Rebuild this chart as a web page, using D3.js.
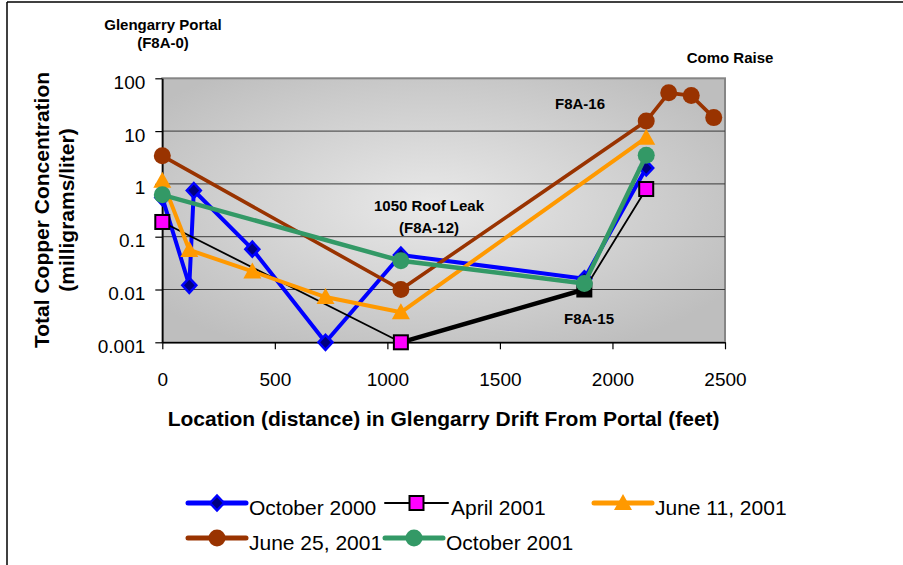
<!DOCTYPE html>
<html>
<head>
<meta charset="utf-8">
<script src="https://cdn.jsdelivr.net/npm/d3@7"></script>
<style>
  body { margin: 0; background: #fff; }
  svg { font-family: "Liberation Sans", Arial, sans-serif; display: block; }
</style>
</head>
<body>
<div class="container"></div>
<script>
// data (feet from portal, mg/l)
const seriesNames = ["October 2000", "April 2001", "June 11, 2001", "June 25, 2001", "October 2001"]

const oct2000X = [0, 120, 140, 400, 725, 1060, 1875, 2150]
const oct2000Y = [0.55, 0.012, 0.75, 0.058, 0.001, 0.045, 0.016, 2.0]

const apr2001X = [0, 1060, 1875, 2150]
const apr2001Y = [0.19, 0.001, 0.01, 0.8]

const jun11X = [0, 120, 400, 725, 1060, 2150]
const jun11Y = [1.15, 0.056, 0.022, 0.0072, 0.0037, 7.5]

const jun25X = [0, 1060, 2150, 2250, 2350, 2450]
const jun25Y = [3.4, 0.01, 15.5, 53, 47, 18]

const oct2001X = [0, 1060, 1875, 2150]
const oct2001Y = [0.62, 0.035, 0.013, 3.5]

const xTicks = [0, 500, 1000, 1500, 2000, 2500]
const yTicks = [100, 10, 1, 0.1, 0.01, 0.001]

const w = 903
const h = 565
const padL = 162.3, padR = 725, padT = 78.3, padB = 342.3

const svg = d3.select(".container").append("svg")
    .attr("width", w)
    .attr("height", h)

const xScale = d3.scaleLinear().domain([0, 2500]).range([padL, padR])
const yScale = d3.scaleLog().domain([0.001, 100]).range([padB, padT])

// outer frame (only top and left visible in the source)
svg.append("line").attr("x1", 7).attr("x2", w).attr("y1", 2).attr("y2", 2)
    .attr("stroke", "#000").attr("stroke-width", 1.5)
svg.append("line").attr("x1", 7).attr("x2", 7).attr("y1", 2).attr("y2", h)
    .attr("stroke", "#000").attr("stroke-width", 1.5)

// plot background
const defs = svg.append("defs")
const grad = defs.append("radialGradient").attr("id", "bg")
    .attr("cx", "48%").attr("cy", "48%").attr("r", "62%")
grad.append("stop").attr("offset", "0%").attr("stop-color", "#e9e9e9")
grad.append("stop").attr("offset", "100%").attr("stop-color", "#bebebe")

svg.append("rect")
    .attr("x", padL).attr("y", padT)
    .attr("width", padR - padL).attr("height", padB - padT)
    .attr("fill", "url(#bg)")
    .attr("stroke", "#868686").attr("stroke-width", 2)

// gridlines
svg.append("g").selectAll("line")
    .data(yTicks.slice(1, 5))
    .enter().append("line")
    .attr("x1", padL).attr("x2", padR)
    .attr("y1", d => yScale(d)).attr("y2", d => yScale(d))
    .attr("stroke", "#3a3a3a").attr("stroke-width", 1)

// axes
const yAxis = d3.axisLeft(yScale).tickValues(yTicks).tickFormat(d => String(d))
    .tickSizeInner(7).tickSizeOuter(0).tickPadding(10)
const gy = svg.append("g").attr("transform", "translate(" + padL + ",0)").call(yAxis)
gy.selectAll("text").attr("dy", "0.53em").style("font-size", "19px").attr("fill", "#000")

const xAxis = d3.axisBottom(xScale).tickValues(xTicks).tickFormat(d3.format("d"))
    .tickSizeInner(7).tickSizeOuter(0).tickPadding(23)
const gx = svg.append("g").attr("transform", "translate(0," + padB + ")").call(xAxis)
gx.selectAll("text").style("font-size", "19px").attr("fill", "#000")
svg.selectAll(".domain").attr("stroke", "#000").attr("stroke-width", 1.5)
svg.selectAll(".tick line").attr("stroke", "#000").attr("stroke-width", 1.2)

// axis titles
svg.append("text")
    .attr("x", (padL + padR) / 2).attr("y", 426)
    .attr("text-anchor", "middle")
    .style("font-size", "21px").style("font-weight", "bold")
    .text("Location (distance) in Glengarry Drift From Portal (feet)")

const yt = svg.append("text")
    .attr("transform", "translate(0,210) rotate(-90)")
    .attr("text-anchor", "middle")
    .style("font-size", "21px").style("font-weight", "bold")
yt.append("tspan").attr("x", 0).attr("y", 49).text("Total Copper Concentration")
yt.append("tspan").attr("x", 0).attr("y", 74).text("(milligrams/liter)")

// annotations
const notes = [
    ["Glengarry Portal", 163, 30],
    ["(F8A-0)", 163, 48],
    ["Como Raise", 730, 63],
    ["F8A-16", 580, 109],
    ["1050 Roof Leak", 429, 211],
    ["(F8A-12)", 429, 233],
    ["F8A-15", 589, 324]
]
svg.append("g").selectAll("text")
    .data(notes)
    .enter().append("text")
    .attr("x", d => d[1]).attr("y", d => d[2])
    .attr("text-anchor", "middle")
    .style("font-size", "15px").style("font-weight", "bold")
    .text(d => d[0])

// series
const zip = (xs, ys) => xs.map((x, i) => [x, ys[i]])
const series = [
    { name: seriesNames[0], pts: zip(oct2000X, oct2000Y), color: "#0000ff", lw: 4, marker: "diamond", fill: "#000080", mstroke: "#0000ff" },
    { name: seriesNames[1], pts: zip(apr2001X, apr2001Y), color: "#000000", lw: 1.8, marker: "square", fill: "#ff00ff", mstroke: "#000" },
    { name: seriesNames[2], pts: zip(jun11X, jun11Y), color: "#ff9900", lw: 4, marker: "triangle", fill: "#ff9900", mstroke: "#ff9900" },
    { name: seriesNames[3], pts: zip(jun25X, jun25Y), color: "#993300", lw: 3.6, marker: "circle", fill: "#993300", mstroke: "#993300" },
    { name: seriesNames[4], pts: zip(oct2001X, oct2001Y), color: "#339966", lw: 4.5, marker: "circle", fill: "#339966", mstroke: "#339966" }
]

const line = d3.line().x(d => xScale(d[0])).y(d => yScale(d[1]))

function drawMarker(g, type, cx, cy, s, fill) {
    fill = fill || s.fill
    if (type === "diamond") {
        g.append("path")
            .attr("d", `M${cx},${cy - 7.5}L${cx + 7},${cy}L${cx},${cy + 7.5}L${cx - 7},${cy}Z`)
            .attr("fill", fill).attr("stroke", s.mstroke).attr("stroke-width", 2.5)
    } else if (type === "square") {
        g.append("rect").attr("x", cx - 7).attr("y", cy - 7).attr("width", 14).attr("height", 14)
            .attr("fill", fill).attr("stroke", s.mstroke).attr("stroke-width", 2)
    } else if (type === "triangle") {
        g.append("path")
            .attr("d", `M${cx},${cy - 9}L${cx + 9},${cy + 7}L${cx - 9},${cy + 7}Z`)
            .attr("fill", fill)
    } else {
        g.append("circle").attr("cx", cx).attr("cy", cy).attr("r", 8.5).attr("fill", fill)
    }
}

series.forEach((s, k) => {
    const g = svg.append("g")
    g.append("path")
        .datum(s.pts)
        .attr("d", line)
        .attr("fill", "none")
        .attr("stroke", s.color)
        .attr("stroke-width", s.lw)
        .attr("stroke-linejoin", "round")
    if (k === 1) {
        // the 1060 -> 1875 segment is drawn heavier in the source
        g.append("path")
            .datum(s.pts.slice(1, 3))
            .attr("d", line)
            .attr("stroke", "#000").attr("stroke-width", 4.5).attr("fill", "none")
    }
    s.pts.forEach((d, j) => {
        // the April 2001 point at 1875 ft is filled black in the source
        const f = (k === 1 && j === 2) ? "#000" : null
        drawMarker(g, s.marker, xScale(d[0]), yScale(d[1]), s, f)
    })
})

// legend
const legendPos = [[188, 503], [385, 503], [594, 503], [188, 538], [385, 538]]
series.forEach((s, i) => {
    const [lx, ly] = legendPos[i]
    const g = svg.append("g")
    const lw = i === 1 ? 63 : 58
    g.append("line").attr("x1", lx).attr("x2", lx + lw).attr("y1", ly).attr("y2", ly)
        .attr("stroke", s.color).attr("stroke-width", i === 1 ? 2 : 5).attr("stroke-linecap", "round")
    drawMarker(g, s.marker, lx + lw / 2, ly, s)
    g.append("text").attr("x", lx + lw + 3).attr("y", ly + 12)
        .style("font-size", "21px")
        .text(s.name)
})
</script>
</body>
</html>
